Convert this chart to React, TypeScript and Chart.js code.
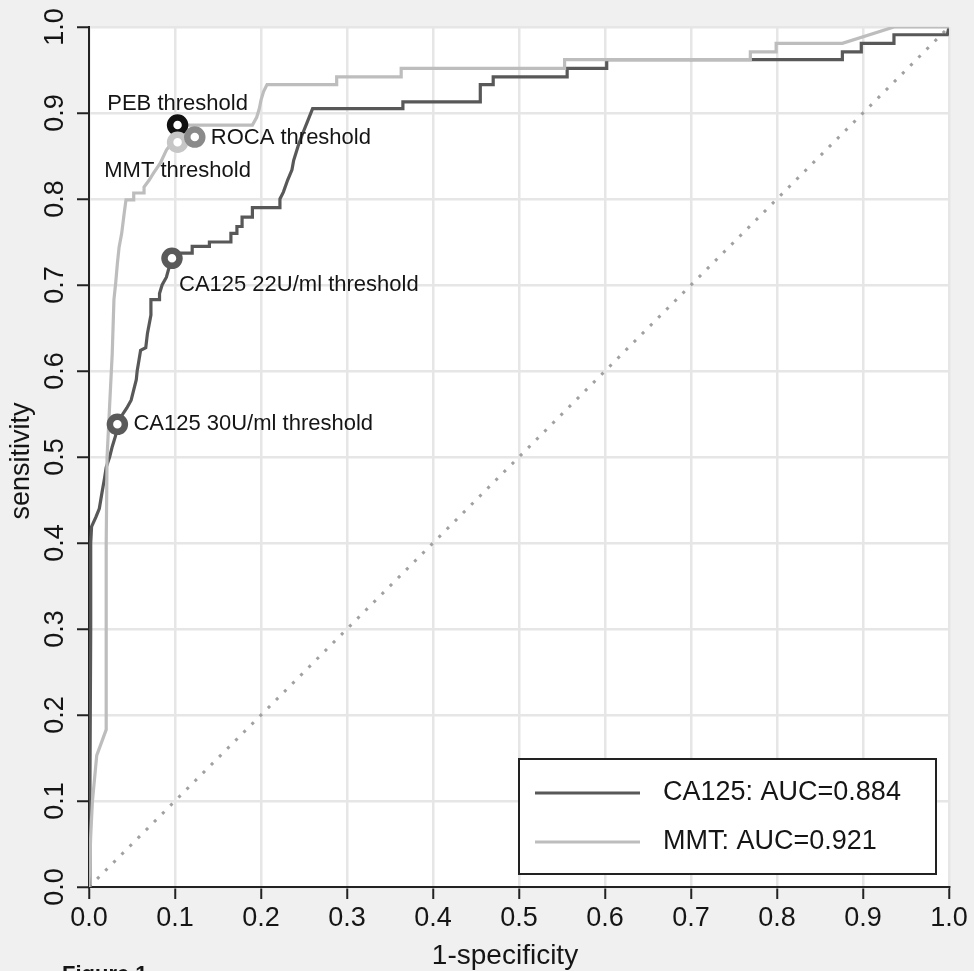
import React, { useEffect, useRef } from "react";
import { Chart, registerables } from "chart.js";

Chart.register(...registerables);

// ---------- data ----------
const tickValues = [0, 0.1, 0.2, 0.3, 0.4, 0.5, 0.6, 0.7, 0.8, 0.9, 1.0];

const ca125X = [
  0, 0.001, 0.002, 0.002, 0.003, 0.008, 0.012, 0.015, 0.018, 0.02, 0.024, 0.027, 0.031, 0.033,
  0.038, 0.044, 0.049, 0.052, 0.055, 0.056, 0.058, 0.06, 0.066, 0.068, 0.072, 0.072, 0.082, 0.082,
  0.085, 0.09, 0.093, 0.097, 0.1, 0.12, 0.12, 0.14, 0.14, 0.165, 0.165, 0.172, 0.172, 0.178, 0.178,
  0.19, 0.19, 0.222, 0.222, 0.226, 0.231, 0.236, 0.238, 0.243, 0.248, 0.254, 0.26, 0.365, 0.365,
  0.455, 0.455, 0.47, 0.47, 0.556, 0.556, 0.602, 0.602, 0.876, 0.876, 0.898, 0.898, 0.936, 0.936,
  0.998, 1,
];
const ca125Y = [
  0, 0.1, 0.3, 0.4, 0.419, 0.43, 0.44, 0.458, 0.475, 0.488, 0.5, 0.512, 0.525, 0.538,
  0.548, 0.557, 0.566, 0.578, 0.59, 0.6, 0.612, 0.624, 0.627, 0.644, 0.665, 0.683, 0.683, 0.69,
  0.7, 0.709, 0.72, 0.731, 0.737, 0.737, 0.745, 0.745, 0.75, 0.75, 0.76, 0.76, 0.768, 0.768, 0.779,
  0.779, 0.79, 0.79, 0.8, 0.808, 0.822, 0.834, 0.845, 0.861, 0.875, 0.89, 0.905, 0.905, 0.913,
  0.913, 0.933, 0.933, 0.942, 0.942, 0.952, 0.952, 0.962, 0.962, 0.971, 0.971, 0.981, 0.981, 0.991,
  0.991, 1,
];

const mmtX = [
  0, 0.002, 0.004, 0.009, 0.02, 0.02, 0.02, 0.021, 0.024, 0.027, 0.029, 0.031, 0.033, 0.035,
  0.038, 0.041, 0.043, 0.052, 0.052, 0.064, 0.064, 0.07, 0.075, 0.083, 0.09, 0.097, 0.105, 0.11,
  0.19, 0.195, 0.198, 0.2, 0.203, 0.207, 0.288, 0.288, 0.363, 0.363, 0.553, 0.553, 0.769, 0.769,
  0.799, 0.799, 0.876, 0.936, 1,
];
const mmtY = [
  0, 0.06, 0.1, 0.153, 0.183, 0.3, 0.4, 0.5, 0.56, 0.62, 0.683, 0.702, 0.725, 0.744,
  0.76, 0.784, 0.799, 0.799, 0.807, 0.807, 0.814, 0.822, 0.83, 0.842, 0.857, 0.866, 0.876, 0.886,
  0.886, 0.895, 0.905, 0.915, 0.925, 0.933, 0.933, 0.942, 0.942, 0.952, 0.952, 0.962, 0.962, 0.971,
  0.971, 0.981, 0.981, 1.0, 1,
];

const chanceX = [0, 1];
const chanceY = [0, 1];

const thresholdNames = [
  "PEB threshold",
  "MMT threshold",
  "ROCA threshold",
  "CA125 22U/ml threshold",
  "CA125 30U/ml threshold",
];
const thresholdX = [0.103, 0.103, 0.123, 0.0965, 0.033];
const thresholdY = [0.886, 0.866, 0.872, 0.731, 0.538];

const legendLabels = ["CA125: AUC=0.884", "MMT: AUC=0.921"];
const xTitle = "1-specificity";
const yTitle = "sensitivity";

// ---------- styles ----------
const FONT = '"Liberation Sans", Arial, sans-serif';
const TEXT = "#151515";
const curveColors = ["#585858", "#bdbdbd"];
const thresholdColors = ["#111111", "#c6c6c6", "#8a8a8a", "#5a5a5a", "#5a5a5a"];
// label placement relative to its marker: [dx, dy, align]
const thresholdLabelPos: [number, number, CanvasTextAlign][] = [
  [0, -21, "center"],
  [0, 29, "center"],
  [16, 1, "left"],
  [7, 27, "left"],
  [16, 0, "left"],
];

const toPts = (xs: number[], ys: number[]) => xs.map((x, i) => ({ x, y: ys[i] }));

const bgPlugin = {
  id: "bgPlugin",
  beforeDraw(chart: any) {
    const { ctx, chartArea, width, height } = chart;
    ctx.save();
    ctx.fillStyle = "#f0f0f0";
    ctx.fillRect(0, 0, width, height);
    ctx.fillStyle = "#ffffff";
    ctx.fillRect(chartArea.left, chartArea.top, chartArea.right - chartArea.left, chartArea.bottom - chartArea.top);
    ctx.restore();
  },
};

const axisTextPlugin = {
  id: "axisTextPlugin",
  afterDraw(chart: any) {
    const { ctx, chartArea } = chart;
    const ys = chart.scales.y;
    ctx.save();
    ctx.fillStyle = TEXT;
    ctx.font = `27px ${FONT}`;
    ctx.textAlign = "center";
    ctx.textBaseline = "middle";
    ys.ticks.forEach((t: any) => {
      const py = ys.getPixelForValue(t.value);
      ctx.save();
      ctx.translate(56, py);
      ctx.rotate(-Math.PI / 2);
      ctx.fillText(Number(t.value).toFixed(1), 0, 0);
      ctx.restore();
    });
    // axis titles
    ctx.font = `28px ${FONT}`;
    ctx.fillText(xTitle, (chartArea.left + chartArea.right) / 2 - 14, 956);
    ctx.save();
    ctx.translate(22, (chartArea.top + chartArea.bottom) / 2 + 4);
    ctx.rotate(-Math.PI / 2);
    ctx.font = `27px ${FONT}`;
    ctx.fillText(yTitle, 0, 0);
    ctx.restore();
    ctx.restore();
  },
};

const annotationPlugin = {
  id: "annotationPlugin",
  afterDatasetsDraw(chart: any) {
    const { ctx, chartArea } = chart;
    // threshold labels
    const meta = chart.getDatasetMeta(3);
    ctx.save();
    ctx.fillStyle = TEXT;
    ctx.font = `22px ${FONT}`;
    ctx.textBaseline = "middle";
    meta.data.forEach((el: any, i: number) => {
      const [dx, dy, align] = thresholdLabelPos[i];
      ctx.textAlign = align;
      ctx.fillText(thresholdNames[i], el.x + dx, el.y + dy);
    });
    ctx.restore();

    // legend box
    const w = 417;
    const h = 115;
    const x0 = chartArea.right - 13 - w;
    const y0 = chartArea.bottom - 13 - h;
    ctx.save();
    ctx.fillStyle = "#ffffff";
    ctx.fillRect(x0, y0, w, h);
    ctx.strokeStyle = "#222222";
    ctx.lineWidth = 2;
    ctx.strokeRect(x0, y0, w, h);
    legendLabels.forEach((lab, i) => {
      const y = y0 + 34 + i * 49;
      ctx.strokeStyle = curveColors[i];
      ctx.lineWidth = 3;
      ctx.beginPath();
      ctx.moveTo(x0 + 16, y);
      ctx.lineTo(x0 + 121, y);
      ctx.stroke();
      ctx.fillStyle = TEXT;
      ctx.font = `27px ${FONT}`;
      ctx.textAlign = "left";
      ctx.textBaseline = "middle";
      ctx.fillText(lab, x0 + 144, y);
    });
    ctx.restore();
  },
};

const axisCommon = (fitKey: "width" | "height", size: number) => ({
  type: "linear" as const,
  min: 0,
  max: 1,
  afterBuildTicks(s: any) {
    s.ticks = tickValues.map((v) => ({ value: v }));
  },
  afterFit(s: any) {
    s[fitKey] = size;
  },
  grid: {
    color: "#e6e6e6",
    lineWidth: 2.5,
    tickLength: 12,
    tickColor: "#222222",
    tickWidth: 2,
  },
  border: { display: true, color: "#222222", width: 2 },
});

export default function App() {
  const ref = useRef<HTMLCanvasElement | null>(null);

  useEffect(() => {
    if (!ref.current) return;
    const chart = new Chart(ref.current, {
      type: "scatter",
      data: {
        datasets: [
          {
            label: "chance",
            data: toPts(chanceX, chanceY),
            showLine: true,
            borderColor: "#a0a0a0",
            borderWidth: 3,
            borderDash: [3, 8.5],
            pointRadius: 0,
            order: 4,
          },
          {
            label: legendLabels[0],
            data: toPts(ca125X, ca125Y),
            showLine: true,
            borderColor: curveColors[0],
            borderWidth: 3.2,
            pointRadius: 0,
            order: 3,
          },
          {
            label: legendLabels[1],
            data: toPts(mmtX, mmtY),
            showLine: true,
            borderColor: curveColors[1],
            borderWidth: 3.2,
            pointRadius: 0,
            order: 2,
          },
          {
            label: "thresholds",
            data: toPts(thresholdX, thresholdY),
            showLine: false,
            pointRadius: 7.5,
            pointBorderWidth: 6.5,
            pointBackgroundColor: "#ffffff",
            pointBorderColor: thresholdColors,
            order: 1,
          },
        ],
      },
      options: {
        responsive: false,
        animation: false,
        layout: { padding: { top: 27, right: 25, left: 0, bottom: 0 } },
        plugins: {
          legend: { display: false },
          tooltip: { enabled: false },
        },
        scales: {
          x: {
            ...axisCommon("height", 84),
            ticks: {
              autoSkip: false,
              maxRotation: 0,
              minRotation: 0,
              padding: 3,
              color: TEXT,
              font: { size: 27, family: FONT },
              callback: (v: any) => Number(v).toFixed(1),
            },
          },
          y: {
            ...axisCommon("width", 89),
            ticks: { display: false },
          },
        },
      },
      plugins: [bgPlugin, axisTextPlugin, annotationPlugin],
    } as any);
    return () => chart.destroy();
  }, []);

  return (
    <div style={{ position: "fixed", left: 0, top: 0, width: 974, height: 971, overflow: "hidden", background: "#f0f0f0" }}>
      <canvas ref={ref} width={974} height={971} style={{ display: "block" }} />
      <div
        style={{
          position: "absolute",
          left: 62,
          top: 961,
          font: `bold 22px ${FONT}`,
          color: TEXT,
          whiteSpace: "nowrap",
        }}
      >
        Figure 1
      </div>
    </div>
  );
}
